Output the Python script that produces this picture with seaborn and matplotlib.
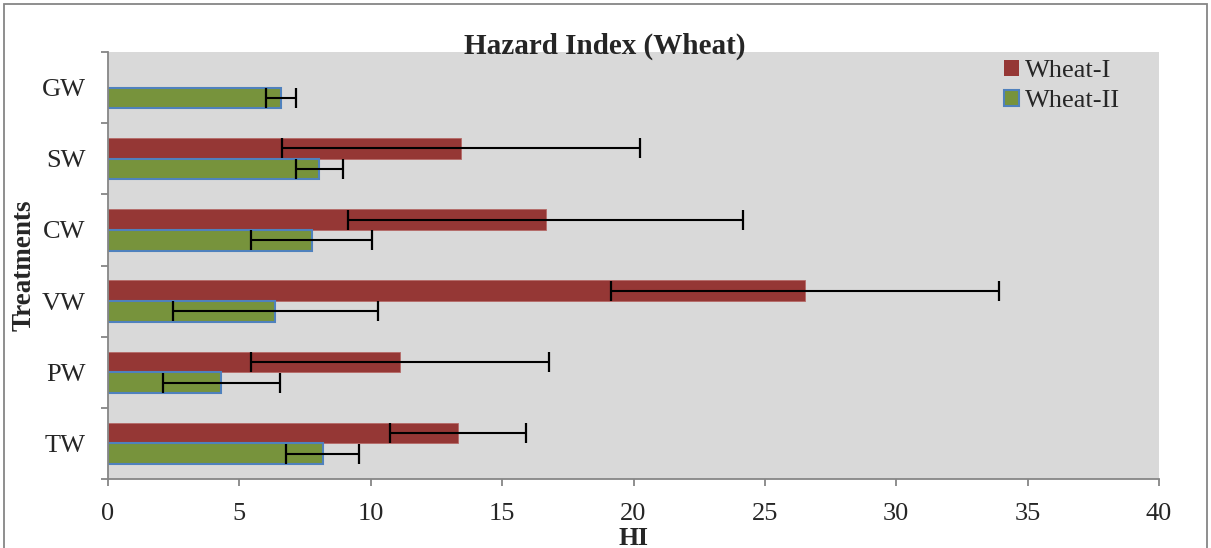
import numpy as np
import pandas as pd
import matplotlib.pyplot as plt
import seaborn as sns
from matplotlib.patches import Patch, Rectangle
from matplotlib.ticker import MultipleLocator

treatments = ["GW", "SW", "CW", "VW", "PW", "TW"]
wheat_1 = [np.nan, 13.44, 16.66, 26.53, 11.11, 13.31]
wheat_1_err = [np.nan, 6.82, 7.51, 7.37, 5.67, 2.58]
wheat_2 = [6.58, 8.04, 7.76, 6.36, 4.31, 8.17]
wheat_2_err = [0.57, 0.89, 2.30, 3.90, 2.23, 1.38]
series = ["Wheat-I", "Wheat-II"]
colors = {"Wheat-I": "#953735", "Wheat-II": "#77933C"}

sns.set_style("white")
plt.rcParams["font.family"] = ["Liberation Serif", "DejaVu Serif"]


def main():
    df = pd.DataFrame(
        {
            "treatment": treatments * 2,
            "variety": ["Wheat-I"] * len(treatments) + ["Wheat-II"] * len(treatments),
            "hi": wheat_1 + wheat_2,
            "err": wheat_1_err + wheat_2_err,
        }
    ).dropna()

    fig = plt.figure(figsize=(12.11, 5.48), dpi=100)
    ax = fig.add_axes([108 / 1211, 69 / 548, 1051 / 1211, 427 / 548])
    ax.set_facecolor("#D9D9D9")

    sns.barplot(
        data=df,
        y="treatment",
        x="hi",
        hue="variety",
        order=treatments,
        hue_order=series,
        palette=colors,
        orient="h",
        width=0.58,
        errorbar=None,
        saturation=1,
        legend=False,
        ax=ax,
    )

    # outline and error bars
    for cont, name in zip(ax.containers, series):
        sub = df[df["variety"] == name].set_index("treatment")
        for bar in cont:
            if name == "Wheat-II":
                bar.set_edgecolor("#4F81BD")
                bar.set_linewidth(1.5)
            else:
                bar.set_edgecolor("#B56A68")
                bar.set_linewidth(0.6)
            yc = bar.get_y() + bar.get_height() / 2
            cat = treatments[int(round(yc))]
            if cat not in sub.index:
                continue
            ax.errorbar(
                sub.loc[cat, "hi"], yc, xerr=sub.loc[cat, "err"],
                fmt="none", ecolor="black", elinewidth=1.5, capsize=7.5, capthick=1.6,
            )

    ax.set_xlim(0, 40)
    ax.set_ylim(len(treatments) - 0.5, -0.5)
    ax.xaxis.set_major_locator(MultipleLocator(5))
    ax.yaxis.set_minor_locator(MultipleLocator(1, offset=0.5))

    for side in ["top", "right"]:
        ax.spines[side].set_visible(False)
    for side in ["left", "bottom"]:
        ax.spines[side].set_color("#868686")
        ax.spines[side].set_linewidth(1.3)

    ax.tick_params(axis="x", which="major", direction="out", length=5, width=1.3,
                   color="#868686", labelsize=19, pad=12, bottom=True)
    ax.tick_params(axis="y", which="major", length=0, labelsize=19, pad=16)
    ax.tick_params(axis="y", which="minor", direction="out", length=5, width=1.3,
                   color="#868686", left=True)

    ax.set_xlabel("HI", fontsize=18.5, fontweight="bold", labelpad=1.5)
    ax.set_ylabel("Treatments", fontsize=19.5, fontweight="bold", labelpad=4)

    fig.text(605 / 1211, 502 / 548, "Hazard Index (Wheat)", ha="center", va="center",
             fontsize=21, fontweight="bold")

    handles = [
        Patch(facecolor=colors["Wheat-I"], edgecolor=colors["Wheat-I"], linewidth=0),
        Patch(facecolor=colors["Wheat-II"], edgecolor="#4F81BD", linewidth=1.5),
    ]
    fig.legend(
        handles, series, loc="upper left", bbox_to_anchor=(1004 / 1211, 488 / 548),
        frameon=False, fontsize=19, handlelength=0.55, handleheight=0.55,
        handletextpad=0.25, borderpad=0, borderaxespad=0, labelspacing=0.3,
    )

    # outer chart border
    fig.patches.append(
        Rectangle((4 / 1211, -0.02), 1203 / 1211, 1 - 4 / 548 + 0.02,
                  transform=fig.transFigure, fill=False, edgecolor="#868686", linewidth=1.3)
    )

    fig.savefig("out.png", dpi=100)
    plt.close(fig)


if __name__ == "__main__":
    main()
